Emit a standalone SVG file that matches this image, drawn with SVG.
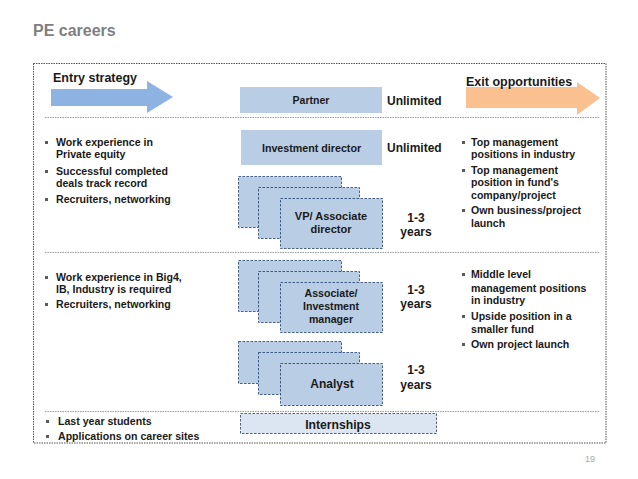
<svg xmlns="http://www.w3.org/2000/svg" width="638" height="479" viewBox="0 0 638 479">
<style>
text{font-family:"Liberation Sans",Arial,sans-serif;font-weight:bold;fill:#1a1a1a}
.b{font-size:10.6px}
.c{text-anchor:middle}
.solid{fill:#b9cde5}
.stk{fill:#b9cde5;stroke:#1f3d6b;stroke-width:0.8;stroke-dasharray:2.5,1.5}
.sep{stroke:#7f7f7f;stroke-width:0.8;stroke-dasharray:1.5,1}
.bul{fill:#5a5a5a}
</style>
<rect width="638" height="479" fill="#fff"/>
<text x="33" y="36" style="font-size:16px;fill:#7f7f7f">PE careers</text>
<rect x="33.5" y="63.5" width="572.5" height="379.5" fill="none" stroke="#404040" stroke-width="0.9" stroke-dasharray="1.5,1"/>
<g id="separators">
<line class="sep" x1="45" y1="117.5" x2="600" y2="117.5"/>
<line class="sep" x1="45" y1="252.5" x2="600" y2="252.5"/>
<line class="sep" x1="45" y1="411.5" x2="600" y2="411.5"/>
</g>
<g id="entry">
<polygon points="51,89 147,89 147,81 173,97 147,113 147,106 51,106" fill="#8db3e2"/>
<text x="53" y="82" style="font-size:12.5px">Entry strategy</text>
</g>
<g id="exit">
<polygon points="466,87 577,87 577,82 600,98 577,115 577,108 466,108" fill="#fac090"/>
<text x="466" y="86" style="font-size:12.5px">Exit opportunities</text>
</g>
<g id="partner">
<rect class="solid" x="240" y="87" width="142" height="26"/>
<text class="c" x="311" y="104" style="font-size:10.5px">Partner</text>
<text x="387" y="105" style="font-size:12px">Unlimited</text>
</g>
<g id="investment-director">
<rect class="solid" x="241" y="130" width="141" height="35"/>
<text class="c" x="311.5" y="152" style="font-size:10.7px">Investment director</text>
<text x="387" y="152" style="font-size:12px">Unlimited</text>
</g>
<g id="vp">
<rect class="stk" x="238.5" y="176.5" width="103" height="51"/>
<rect class="stk" x="258.5" y="187.5" width="101" height="51"/>
<rect class="stk" x="280.5" y="198.5" width="102" height="50"/>
<text class="c" x="331" y="220" style="font-size:11px">VP/ Associate</text>
<text class="c" x="331" y="233" style="font-size:11px">director</text>
<text class="c" x="416" y="222" style="font-size:12px">1-3</text>
<text class="c" x="416" y="236" style="font-size:12px">years</text>
</g>
<g id="associate">
<rect class="stk" x="238.5" y="260.5" width="103" height="51"/>
<rect class="stk" x="258.5" y="271.5" width="101" height="51"/>
<rect class="stk" x="280.5" y="282.5" width="102" height="50"/>
<text class="c" x="331" y="297" style="font-size:10.6px">Associate/</text>
<text class="c" x="331" y="310" style="font-size:10.6px">Investment</text>
<text class="c" x="331" y="323" style="font-size:10.6px">manager</text>
<text class="c" x="416" y="294" style="font-size:12px">1-3</text>
<text class="c" x="416" y="308" style="font-size:12px">years</text>
</g>
<g id="analyst">
<rect class="stk" x="238.5" y="341.5" width="103" height="42"/>
<rect class="stk" x="258.5" y="352.5" width="101" height="42"/>
<rect class="stk" x="280.5" y="363.5" width="102" height="42"/>
<text class="c" x="332" y="388" style="font-size:12px">Analyst</text>
<text class="c" x="416" y="374" style="font-size:12px">1-3</text>
<text class="c" x="416" y="389" style="font-size:12px">years</text>
</g>
<g id="internships">
<rect x="240.5" y="413.5" width="196" height="20" fill="#dce6f2" stroke="#1f3d6b" stroke-width="0.8" stroke-dasharray="2.5,1.5"/>
<text class="c" x="338" y="429" style="font-size:12.2px">Internships</text>
</g>
<g id="entry-bullets">
<rect class="bul" x="45" y="141" width="3" height="3"/>
<text class="b" x="56" y="146">Work experience in</text>
<text class="b" x="56" y="158">Private equity</text>
<rect class="bul" x="45" y="170" width="3" height="3"/>
<text class="b" x="56" y="175">Successful completed</text>
<text class="b" x="56" y="187">deals track record</text>
<rect class="bul" x="45" y="198" width="3" height="3"/>
<text class="b" x="56" y="203">Recruiters, networking</text>
<rect class="bul" x="45" y="276" width="3" height="3"/>
<text class="b" x="56" y="281">Work experience in Big4,</text>
<text class="b" x="56" y="293">IB, Industry is required</text>
<rect class="bul" x="45" y="303" width="3" height="3"/>
<text class="b" x="56" y="308">Recruiters, networking</text>
<rect class="bul" x="46" y="420" width="3" height="3"/>
<text class="b" x="58" y="425">Last year students</text>
<rect class="bul" x="46" y="435" width="3" height="3"/>
<text class="b" x="58" y="440">Applications on career sites</text>
</g>
<g id="exit-bullets">
<rect class="bul" x="462" y="141" width="3" height="3"/>
<text class="b" x="471" y="146">Top management</text>
<text class="b" x="471" y="158">positions in industry</text>
<rect class="bul" x="462" y="169" width="3" height="3"/>
<text class="b" x="471" y="174">Top management</text>
<text class="b" x="471" y="186">position in fund's</text>
<text class="b" x="471" y="199">company/project</text>
<rect class="bul" x="462" y="209" width="3" height="3"/>
<text class="b" x="471" y="214">Own business/project</text>
<text class="b" x="471" y="227">launch</text>
<rect class="bul" x="462" y="273" width="3" height="3"/>
<text class="b" x="471" y="278">Middle level</text>
<text class="b" x="471" y="292">management positions</text>
<text class="b" x="471" y="304">in industry</text>
<rect class="bul" x="462" y="315" width="3" height="3"/>
<text class="b" x="471" y="320">Upside position in a</text>
<text class="b" x="471" y="333">smaller fund</text>
<rect class="bul" x="462" y="343" width="3" height="3"/>
<text class="b" x="471" y="348">Own project launch</text>
</g>
<text x="590" y="462" class="c" style="font-size:9px;font-weight:normal;fill:#a6a6a6">19</text>
</svg>
